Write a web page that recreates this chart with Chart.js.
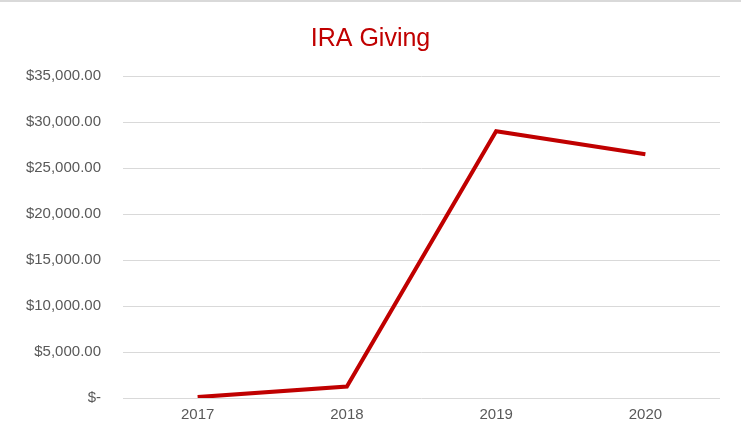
<!DOCTYPE html>
<html>
<head>
<meta charset="utf-8">
<script src="https://cdn.jsdelivr.net/npm/chart.js@4/dist/chart.umd.min.js"></script>
<style>
  html, body { margin: 0; padding: 0; background: #fff; }
  #wrap { position: relative; width: 741px; height: 443px; }
  #topline { position: absolute; left: 0; top: 0; width: 741px; height: 2px; background: #d9d9d9; }
</style>
</head>
<body>
<div id="wrap">
  <canvas id="chartIra" width="741" height="443"></canvas>
  <div id="topline"></div>
</div>
<script>
// ── Data ─────────────────────────────────────
const YEARS  = ['2017', '2018', '2019', '2020'];
const GIVING = [100, 1250, 29000, 26500];

const RED  = '#c00000';
const GREY = '#595959';
const GRID = { color: '#d9d9d9', lineWidth: 1, drawTicks: false };
const FONT = 'Liberation Sans, Arial, sans-serif';

const fmtMoney = v => v === 0
  ? '$-'
  : '$' + v.toLocaleString('en-US', { minimumFractionDigits: 2, maximumFractionDigits: 2 });

new Chart(document.getElementById('chartIra'), {
  type: 'line',
  data: {
    labels: YEARS,
    datasets: [{
      label:       'IRA Giving',
      data:        GIVING,
      borderColor: RED,
      borderWidth: 4,
      pointRadius: 0,
      tension:     0,
      fill:        false,
    }],
  },
  options: {
    responsive: false,
    animation:  false,
    layout: { padding: { top: 0, right: 21, bottom: 11, left: 21 } },
    plugins: {
      legend:  { display: false },
      tooltip: { enabled: false },
      title: {
        display: true,
        text:    'IRA Giving',
        color:   RED,
        font:    { family: FONT, size: 25, weight: 'normal' },
        padding: { top: 24, bottom: 22 },
      },
    },
    scales: {
      x: {
        offset: true,
        grid:   { display: false, drawTicks: false },
        border: { display: false },
        ticks:  { color: GREY, font: { family: FONT, size: 15 }, padding: 8 },
      },
      y: {
        min: 0,
        max: 35000,
        grid:   GRID,
        border: { display: false },
        ticks:  {
          stepSize: 5000,
          color:    GREY,
          font:     { family: FONT, size: 15 },
          padding:  22,
          callback: fmtMoney,
        },
        afterFit: axis => { axis.width = 102; },
      },
    },
  },
});
</script>
</body>
</html>
